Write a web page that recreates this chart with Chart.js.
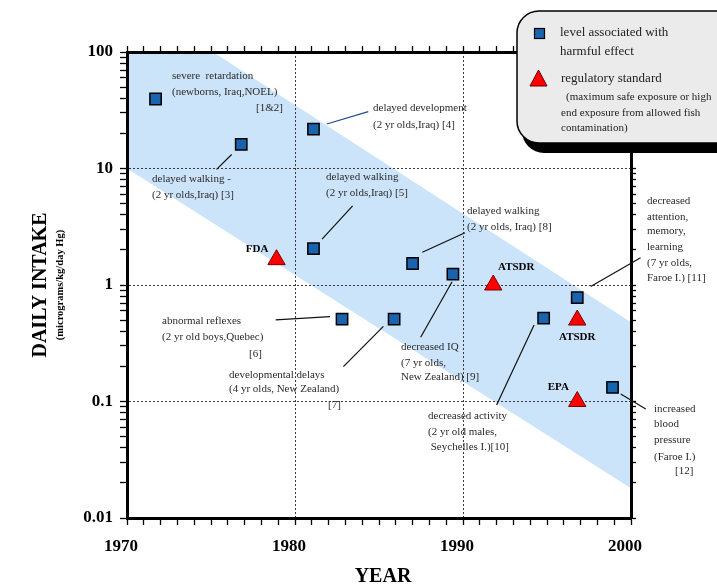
<!DOCTYPE html>
<html>
<head>
<meta charset="utf-8">
<script src="https://cdn.jsdelivr.net/npm/chart.js@4/dist/chart.umd.min.js"></script>
<style>
  html, body { margin: 0; padding: 0; background: #fff; }
  #wrap { width: 717px; height: 586px; }
</style>
</head>
<body>
<div id="wrap"><canvas id="c" width="717" height="586"></canvas></div>
<script>
// Methylmercury: daily intake linked to harmful effects, and regulatory standards, by year

// Studies reporting a level associated with a harmful effect
const effectYears  = [1971.7, 1976.8, 1981.1, 1981.1, 1987.0, 1989.4, 1982.8, 1985.9, 1994.8, 1996.8, 1998.9];
const effectIntake = [39.5,   16.1,   21.8,   2.05,   1.53,   1.24,   0.51,   0.51,   0.52,   0.78,   0.132];

// Regulatory standards
const standardNames  = ['FDA', 'ATSDR', 'ATSDR', 'EPA'];
const standardYears  = [1978.9, 1991.8, 1996.8, 1996.8];
const standardIntake = [1.65,   1.0,    0.5,    0.1];

// Shaded trend band (upper and lower edges)
const bandYears = [1970, 2000];
const bandUpper = [300, 0.48];
const bandLower = [10, 0.018];

// Axis ticks and labels
const yearMajor    = [1970, 1980, 1990, 2000];
const yearLabels   = ['1970', '1980', '1990', '2000'];
const intakeMajor  = [0.01, 0.1, 1, 10, 100];
const intakeLabels = ['0.01', '0.1', '1', '10', '100'];

// Study descriptions: [text, left x, middle y]
const noteText = [
  ['severe  retardation', 172, 76],
  ['(newborns, Iraq,NOEL)', 172, 92],
  ['[1&2]', 256, 108],
  ['delayed development', 373, 108],
  ['(2 yr olds,Iraq) [4]', 373, 125],
  ['delayed walking -', 152, 179],
  ['(2 yr olds,Iraq) [3]', 152, 195],
  ['delayed walking', 326, 177],
  ['(2 yr olds,Iraq) [5]', 326, 193],
  ['delayed walking', 467, 211],
  ['(2 yr olds, Iraq) [8]', 467, 227],
  ['abnormal reflexes', 162, 321],
  ['(2 yr old boys,Quebec)', 162, 337],
  ['[6]', 249, 354],
  ['developmental delays', 229, 375],
  ['(4 yr olds, New Zealand)', 229, 389],
  ['[7]', 328, 405],
  ['decreased IQ', 401, 347],
  ['(7 yr olds,', 401, 363],
  ['New Zealand) [9]', 401, 377],
  ['decreased activity', 428, 416],
  ['(2 yr old males,', 428, 432],
  [' Seychelles I.)[10]', 428, 447],
  ['decreased', 647, 201],
  ['attention,', 647, 217],
  ['memory,', 647, 231],
  ['learning', 647, 247],
  ['(7 yr olds,', 647, 263],
  ['Faroe I.) [11]', 647, 278],
  ['increased', 654, 409],
  ['blood', 654, 424],
  ['pressure', 654, 440],
  ['(Faroe I.)', 654, 457],
  ['[12]', 675, 471]
];

// Leader lines between descriptions and their markers, in (year, intake)
const leaderLines = [
  [[1976.23, 13.2], [1975.33, 9.84], '#111'],
  [[1981.89, 24.1], [1984.36, 30.8], '#1f4e8c'],
  [[1983.43, 4.77], [1981.61, 2.48], '#111'],
  [[1990.12, 2.81], [1987.58, 1.91], '#111'],
  [[1978.85, 0.501], [1982.08, 0.535], '#111'],
  [[1985.26, 0.442], [1982.88, 0.199], '#111'],
  [[1989.35, 1.067], [1987.48, 0.356], '#111'],
  [[1994.23, 0.454], [1992.0, 0.0933], '#111'],
  [[1997.6, 0.971], [2000.57, 1.712], '#111'],
  [[1999.39, 0.116], [2000.88, 0.0864], '#111']
];

const SERIF = '"Liberation Serif", "Times New Roman", serif';
const yearTicks = [];
for (let y = 1970; y <= 2000; y++) yearTicks.push(y);
const intakeTicks = [];
[0.01, 0.1, 1, 10].forEach(d => { for (let m = 1; m <= 9; m++) intakeTicks.push(d * m); });
intakeTicks.push(100);

const isMajorIntake = v => Math.abs(Math.log10(v) - Math.round(Math.log10(v))) < 1e-9;
const CLEAR = 'rgba(0,0,0,0)';
const GRID = '#3a3a3a';

function roundRectPath(ctx, x, y, w, h, r) {
  ctx.beginPath();
  ctx.moveTo(x + r, y);
  ctx.lineTo(x + w - r, y);
  ctx.arcTo(x + w, y, x + w, y + r, r);
  ctx.lineTo(x + w, y + h - r);
  ctx.arcTo(x + w, y + h, x + w - r, y + h, r);
  ctx.lineTo(x + r, y + h);
  ctx.arcTo(x, y + h, x, y + h - r, r);
  ctx.lineTo(x, y + r);
  ctx.arcTo(x, y, x + r, y, r);
  ctx.closePath();
}

const decorations = {
  id: 'decorations',
  afterDraw(chart) {
    const ctx = chart.ctx;
    const xs = chart.scales.x, ys = chart.scales.y;
    ctx.save();

    // axis titles
    ctx.fillStyle = '#000';
    ctx.textAlign = 'center';
    ctx.textBaseline = 'middle';
    ctx.font = 'bold 20px ' + SERIF;
    ctx.fillText('YEAR', 383, 577);
    const midY = (chart.chartArea.top + chart.chartArea.bottom) / 2;
    ctx.save();
    ctx.translate(41, midY);
    ctx.rotate(-Math.PI / 2);
    ctx.fillText('DAILY INTAKE', 0, 0);
    ctx.restore();
    ctx.save();
    ctx.translate(60, midY);
    ctx.rotate(-Math.PI / 2);
    ctx.font = 'bold 10.5px ' + SERIF;
    ctx.fillText('(micrograms/kg/day Hg)', 0, 0);
    ctx.restore();

    // leader lines
    leaderLines.forEach(([a, b, col]) => {
      ctx.beginPath();
      ctx.strokeStyle = col;
      ctx.lineWidth = 1.2;
      ctx.moveTo(xs.getPixelForValue(a[0]), ys.getPixelForValue(a[1]));
      ctx.lineTo(xs.getPixelForValue(b[0]), ys.getPixelForValue(b[1]));
      ctx.stroke();
    });

    // study descriptions
    ctx.fillStyle = '#2a2a2a';
    ctx.textAlign = 'left';
    ctx.font = '11px ' + SERIF;
    noteText.forEach(([t, x, y]) => ctx.fillText(t, x, y));

    // agency names next to their triangles
    const labelShift = [[-19.5, -11], [23, -18], [0, 17], [-19, -14]];
    ctx.fillStyle = '#000';
    ctx.textAlign = 'center';
    ctx.font = 'bold 11px ' + SERIF;
    standardNames.forEach((n, i) => {
      const px = xs.getPixelForValue(standardYears[i]);
      const py = ys.getPixelForValue(standardIntake[i]);
      ctx.fillText(n, px + labelShift[i][0], py + labelShift[i][1]);
    });

    // legend box with drop shadow
    roundRectPath(ctx, 522, 21, 260, 132, 22);
    ctx.fillStyle = '#000';
    ctx.fill();
    roundRectPath(ctx, 517, 11, 260, 132, 22);
    ctx.fillStyle = '#ebebeb';
    ctx.fill();
    ctx.lineWidth = 1.5;
    ctx.strokeStyle = '#000';
    ctx.stroke();

    ctx.fillStyle = '#1a63ad';
    ctx.fillRect(534.5, 28.5, 10, 10);
    ctx.lineWidth = 1.2;
    ctx.strokeRect(534.5, 28.5, 10, 10);

    ctx.beginPath();
    ctx.moveTo(538.5, 70);
    ctx.lineTo(547, 86);
    ctx.lineTo(530, 86);
    ctx.closePath();
    ctx.fillStyle = '#ff0000';
    ctx.fill();
    ctx.strokeStyle = '#600';
    ctx.lineWidth = 1;
    ctx.stroke();

    ctx.fillStyle = '#222';
    ctx.textAlign = 'left';
    ctx.font = '13px ' + SERIF;
    ctx.fillText('level associated with', 560, 33);
    ctx.fillText('harmful effect', 560, 52);
    ctx.fillText('regulatory standard', 561, 79);
    ctx.font = '11px ' + SERIF;
    ctx.fillText('(maximum safe exposure or high', 566, 97);
    ctx.fillText('end exposure from allowed fish', 561, 113);
    ctx.fillText('contamination)', 561, 128);

    ctx.restore();
  }
};

const frameBorder = { width: 3, color: '#000', dash: [2, 2] };

new Chart(document.getElementById('c'), {
  type: 'scatter',
  data: {
    datasets: [
      {
        type: 'line',
        data: bandYears.map((x, i) => ({ x, y: bandUpper[i] })),
        borderWidth: 0, borderColor: CLEAR, pointRadius: 0,
        backgroundColor: '#cce4fa', fill: '+1'
      },
      {
        type: 'line',
        data: bandYears.map((x, i) => ({ x, y: bandLower[i] })),
        borderWidth: 0, borderColor: CLEAR, pointRadius: 0, fill: false
      },
      {
        label: 'level associated with harmful effect',
        data: effectYears.map((x, i) => ({ x, y: effectIntake[i] })),
        pointStyle: 'rect', pointRadius: 8,
        backgroundColor: '#1a63ad', borderColor: '#000', borderWidth: 1.5
      },
      {
        label: 'regulatory standard',
        data: standardYears.map((x, i) => ({ x, y: standardIntake[i] })),
        pointStyle: 'triangle', pointRadius: 10,
        backgroundColor: '#ff0000', borderColor: '#700', borderWidth: 1
      }
    ]
  },
  options: {
    responsive: false,
    animation: false,
    devicePixelRatio: 1,
    layout: { padding: 0 },
    plugins: {
      legend: { display: false },
      tooltip: { enabled: false },
      filler: { drawTime: 'beforeDraw' }
    },
    scales: {
      x: {
        type: 'linear', position: 'bottom', min: 1970, max: 2000,
        afterBuildTicks: s => { s.ticks = yearTicks.map(v => ({ value: v })); },
        afterFit: s => { s.height = 68; },
        ticks: {
          autoSkip: false, maxRotation: 0, padding: 11, labelOffset: -6, color: '#000',
          font: { family: SERIF, size: 17, weight: 'bold' },
          callback: v => { const i = yearMajor.indexOf(v); return i >= 0 ? yearLabels[i] : ''; }
        },
        grid: {
          color: c => (c.tick && (c.tick.value === 1980 || c.tick.value === 1990)) ? GRID : CLEAR,
          lineWidth: 1, tickColor: '#000', tickLength: 7, tickWidth: 1.3
        },
        border: frameBorder
      },
      x2: {
        type: 'linear', position: 'top', min: 1970, max: 2000,
        afterBuildTicks: s => { s.ticks = yearTicks.map(v => ({ value: v })); },
        afterFit: s => { s.height = 52; },
        ticks: { display: false, autoSkip: false },
        grid: { drawOnChartArea: false, tickColor: '#000', tickLength: 6, tickWidth: 1.3 },
        border: frameBorder
      },
      y: {
        type: 'logarithmic', position: 'left', min: 0.01, max: 100,
        afterBuildTicks: s => { s.ticks = intakeTicks.map(v => ({ value: v })); },
        afterFit: s => { s.width = 127; },
        ticks: {
          autoSkip: false, padding: 7, color: '#000',
          font: { family: SERIF, size: 17, weight: 'bold' },
          callback: v => {
            if (!isMajorIntake(v)) return '';
            const i = intakeMajor.findIndex(m => Math.abs(m - v) / m < 1e-6);
            return i >= 0 ? intakeLabels[i] : '';
          }
        },
        grid: {
          color: c => {
            if (!c.tick) return CLEAR;
            const v = c.tick.value;
            return (isMajorIntake(v) && v > 0.05 && v < 50) ? GRID : CLEAR;
          },
          lineWidth: 1, tickColor: '#000', tickLength: 7, tickWidth: 1.3
        },
        border: frameBorder
      },
      y2: {
        type: 'logarithmic', position: 'right', min: 0.01, max: 100,
        afterBuildTicks: s => { s.ticks = intakeTicks.map(v => ({ value: v })); },
        afterFit: s => { s.width = 86; },
        ticks: { display: false, autoSkip: false },
        grid: { drawOnChartArea: false, tickColor: '#000', tickLength: 5, tickWidth: 1.3 },
        border: frameBorder
      }
    }
  },
  plugins: [decorations]
});
</script>
</body>
</html>
